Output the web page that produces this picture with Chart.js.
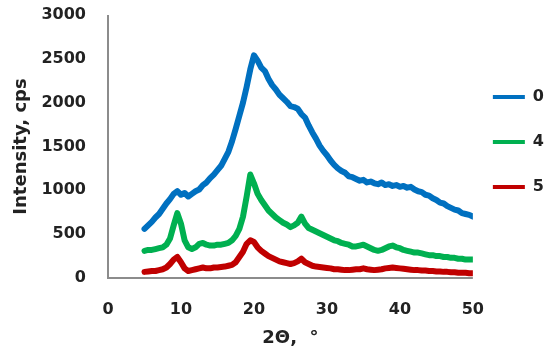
<!DOCTYPE html>
<html><head><meta charset="utf-8">
<script src="https://cdn.jsdelivr.net/npm/chart.js@4/dist/chart.umd.min.js"></script>
<style>html,body{margin:0;padding:0;background:#fff}canvas{display:block}</style>
</head><body>
<canvas id="c" width="550" height="353"></canvas>
<script>
const angles = [5,5.5,6,6.5,7,7.5,8,8.5,9,9.5,10,10.5,11,11.5,12,12.5,13,13.5,14,14.5,15,15.5,16,16.5,17,17.5,18,18.5,19,19.5,20,20.5,21,21.5,22,22.5,23,23.5,24,24.5,25,25.5,26,26.5,27,27.5,28,28.5,29,29.5,30,30.5,31,31.5,32,32.5,33,33.5,34,34.5,35,35.5,36,36.5,37,37.5,38,38.5,39,39.5,40,40.5,41,41.5,42,42.5,43,43.5,44,44.5,45,45.5,46,46.5,47,47.5,48,48.5,49,49.5,50];
const series0 = [560,600,640,690,730,790,850,900,960,990,950,970,930,960,990,1010,1060,1090,1140,1180,1230,1280,1360,1440,1560,1700,1850,2000,2180,2380,2540,2480,2400,2360,2270,2200,2150,2090,2050,2010,1960,1950,1930,1870,1830,1740,1660,1590,1510,1450,1400,1340,1290,1250,1220,1200,1160,1150,1130,1110,1120,1090,1100,1080,1070,1090,1060,1070,1050,1060,1040,1050,1030,1040,1010,990,980,950,940,910,890,860,850,820,800,780,770,740,730,720,700];
const series4 = [310,320,320,330,340,350,380,450,600,740,620,430,350,330,350,390,400,380,370,370,380,380,390,400,430,480,560,700,930,1180,1080,960,890,830,770,730,690,660,630,610,580,600,630,700,620,570,550,530,510,490,470,450,430,420,400,390,380,360,360,370,380,360,340,320,310,320,340,360,370,350,340,320,310,300,290,290,280,270,260,260,250,250,240,240,230,230,220,220,210,210,210];
const series5 = [70,75,80,80,90,100,120,160,210,240,180,110,80,90,100,110,120,110,110,120,120,125,130,140,150,180,240,300,390,430,410,350,310,280,250,230,210,190,180,170,160,170,190,220,180,160,140,130,125,120,115,110,100,100,95,90,90,95,100,100,110,100,95,90,95,100,110,115,120,115,110,105,100,95,90,90,85,85,80,80,75,75,70,70,65,65,60,60,60,55,55];
const seriesNames = ['0', '4', '5'];
const xTicks = [0, 10, 20, 30, 40, 50];
const yTicks = [0, 500, 1000, 1500, 2000, 2500, 3000];
const xTitle = '2\u0398,  \u00B0';
const yTitle = 'Intensity, cps';

const colors = ['#0070C0', '#00B050', '#C00000'];
const allSeries = [series0, series4, series5];
const FAM = '"DejaVu Sans", sans-serif';
const tickFont = {family: FAM, size: 16, weight: 'bold'};
const titleFont = {family: FAM, size: 18, weight: 'bold'};
const legendFont = {family: FAM, size: 16, weight: 'bold', lineHeight: '25px'};
const AXIS_COLOR = '#8c8c8c';
const CLEAR = 'rgba(0,0,0,0)';

const datasets = seriesNames.map((name, i) => ({
  label: name,
  data: angles.map((a, j) => ({x: a, y: allSeries[i][j]})),
  borderColor: colors[i],
  backgroundColor: colors[i],
  borderWidth: 6,
  pointRadius: 0,
  pointStyle: 'line',
  tension: 0,
  borderJoinStyle: 'round',
  borderCapStyle: 'round'
}));

// axis lines along the scales' zero positions
const axisLines = {
  id: 'axisLines',
  beforeDatasetsDraw(chart) {
    const {ctx, scales: {x, y}} = chart;
    const x0 = x.getPixelForValue(0), x1 = x.getPixelForValue(50);
    const y0 = y.getPixelForValue(0), y1 = y.getPixelForValue(3000);
    ctx.save();
    ctx.strokeStyle = AXIS_COLOR;
    ctx.lineWidth = 2;
    ctx.beginPath();
    ctx.moveTo(x0, y1);
    ctx.lineTo(x0, y0);
    ctx.lineTo(x1, y0);
    ctx.stroke();
    ctx.restore();
  }
};

new Chart(document.getElementById('c'), {
  type: 'line',
  data: {datasets},
  plugins: [axisLines],
  options: {
    responsive: false,
    animation: false,
    layout: {padding: {top: 15, right: -4, bottom: 0, left: 0}},
    plugins: {
      tooltip: {enabled: false},
      legend: {
        position: 'right',
        fullSize: false,
        align: 'center',
        labels: {
          usePointStyle: true,
          pointStyleWidth: 32,
          padding: 20,
          color: '#222',
          font: legendFont,
          generateLabels: (chart) => Chart.defaults.plugins.legend.labels.generateLabels(chart).map(l => Object.assign(l, {lineWidth: 4, text: [l.text]}))
        }
      }
    },
    scales: {
      x: {
        type: 'linear', min: 0, max: 50,
        afterBuildTicks: s => { s.ticks = xTicks.map(v => ({value: v})); },
        afterFit: s => { s.height = 75; },
        grid: {display: true, drawOnChartArea: false, drawTicks: true, tickLength: 22, tickColor: CLEAR, color: CLEAR, lineWidth: 0},
        border: {display: false},
        ticks: {padding: 0, color: '#222', font: tickFont, callback: v => String(v)},
        title: {display: true, text: xTitle, color: '#222', font: titleFont, padding: {top: 0, bottom: 4}}
      },
      y: {
        min: 0, max: 3000,
        afterBuildTicks: s => { s.ticks = yTicks.map(v => ({value: v})); },
        afterFit: s => { s.width = 108; },
        grid: {display: true, drawOnChartArea: false, drawTicks: true, tickLength: 22, tickColor: CLEAR, color: CLEAR, lineWidth: 0},
        border: {display: false},
        ticks: {padding: 0, color: '#222', font: tickFont, callback: v => String(v)},
        title: {display: true, text: yTitle, color: '#222', font: titleFont, padding: {top: 11, bottom: 0}}
      }
    }
  }
});
</script>
</body></html>
